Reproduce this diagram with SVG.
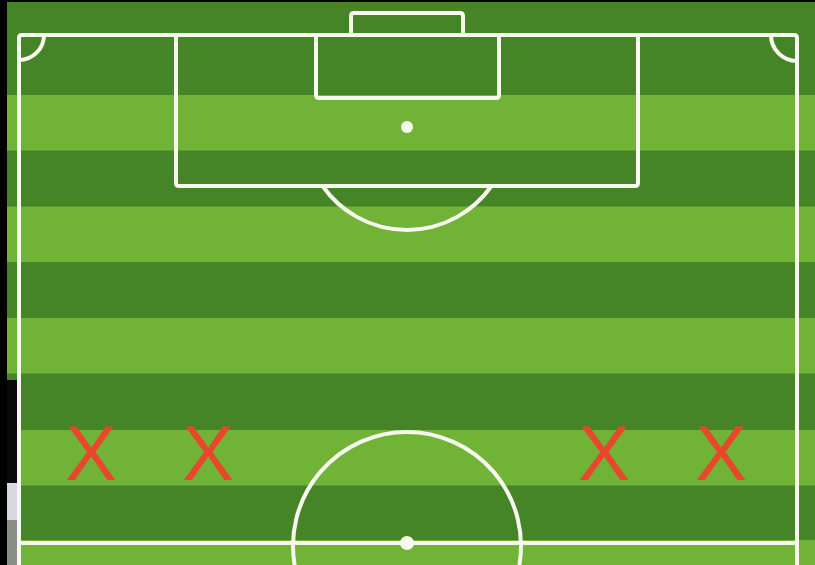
<svg xmlns="http://www.w3.org/2000/svg" width="815" height="565" viewBox="0 0 815 565">
  <style>
    .dark { fill: #468527; }
    .light { fill: #70b337; }
    .line { fill: none; stroke: #f7f9ef; stroke-width: 4; stroke-linejoin: round; }
    .spot { fill: #f7f9ef; }
    .x { font-family: "Liberation Sans", Arial, sans-serif; font-size: 78px; fill: #e9472b; text-anchor: middle; }
  </style>
  <rect x="0" y="0" width="815" height="565" class="dark"/>
  <g id="stripes">
    <rect x="0" y="95" width="815" height="55.5" class="light"/>
    <rect x="0" y="206.5" width="815" height="55.5" class="light"/>
    <rect x="0" y="318" width="815" height="55.5" class="light"/>
    <rect x="0" y="430" width="815" height="55.5" class="light"/>
    <rect x="0" y="540" width="815" height="25" class="light"/>
  </g>
  <g id="frame">
    <rect x="0" y="0" width="815" height="2" fill="#000"/>
    <rect x="0" y="0" width="7" height="565" fill="#000"/>
    <rect x="7" y="380" width="10" height="103" fill="#0a0a0a"/>
    <rect x="7" y="483" width="10" height="37" fill="#d8d8e0"/>
    <rect x="7" y="520" width="10" height="45" fill="#8a8f86"/>
  </g>
  <g id="pitch">
    <path class="line" d="M19,565 V38 Q19,35 22,35 H794 Q797,35 797,38 V565"/>
    <line class="line" x1="19" y1="543" x2="797" y2="543"/>
    <path class="line" d="M19,60 A25,25 0 0 0 44,35"/>
    <path class="line" d="M771,35 A26,26 0 0 0 797,61"/>
  </g>
  <g id="goal">
    <path class="line" d="M351,35 V16 Q351,13 354,13 H460 Q463,13 463,16 V35"/>
  </g>
  <g id="six-yard-box">
    <path class="line" d="M316,35 V95 Q316,98 319,98 H496 Q499,98 499,95 V35"/>
  </g>
  <g id="penalty-box">
    <path class="line" d="M176,35 V183 Q176,186 179,186 H635 Q638,186 638,183 V35"/>
    <circle class="spot" cx="407" cy="127" r="6"/>
    <path class="line" d="M322.6,186 A103,103 0 0 0 491.4,186"/>
  </g>
  <g id="centre-circle">
    <path class="line" d="M294.6,565 A114,114 0 1 1 519.4,565"/>
    <circle class="spot" cx="407" cy="543" r="7"/>
  </g>
  <g id="players">
    <text class="x" x="91" y="480">X</text>
    <text class="x" x="208" y="480">X</text>
    <text class="x" x="604" y="480">X</text>
    <text class="x" x="721" y="480">X</text>
  </g>
</svg>
